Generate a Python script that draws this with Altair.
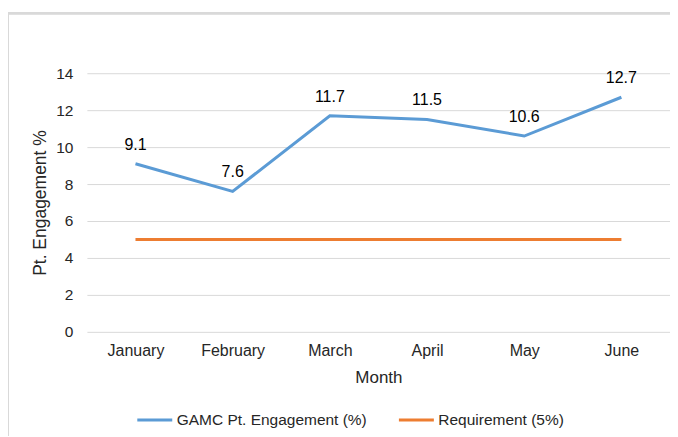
import altair as alt
import pandas as pd

months = ["January", "February", "March", "April", "May", "June"]
engagement = [9.1, 7.6, 11.7, 11.5, 10.6, 12.7]
requirement = [5, 5, 5, 5, 5, 5]
y_ticks = [0, 2, 4, 6, 8, 10, 12, 14]
series_names = ["GAMC Pt. Engagement (%)", "Requirement (5%)"]
colors = ["#5B9BD5", "#ED7D31"]

rows = []
for m, v in zip(months, engagement):
    rows.append({"Month": m, "Value": v, "Series": series_names[0]})
for m, v in zip(months, requirement):
    rows.append({"Month": m, "Value": v, "Series": series_names[1]})
df = pd.DataFrame(rows)
df_lab = pd.DataFrame({"Month": months, "Value": engagement})

FONT = "Liberation Sans"

x = alt.X("Month:N", sort=months, title="Month",
          scale=alt.Scale(paddingInner=0, paddingOuter=0.5),
          axis=alt.Axis(labelAngle=0, ticks=False, domain=False, labelPadding=11,
                        titlePadding=11, labelFontSize=16, titleFontSize=17,
                        labelColor="#262626", titleColor="#262626",
                        labelFont=FONT, titleFont=FONT, titleFontWeight="normal"))
y = alt.Y("Value:Q", title="Pt. Engagement %",
          scale=alt.Scale(domain=[0, 14], nice=False),
          axis=alt.Axis(values=y_ticks, ticks=False, domain=False,
                        labelOverlap=False, labelPadding=14, titlePadding=6,
                        labelFontSize=15.5, titleFontSize=17.5,
                        labelColor="#262626", titleColor="#262626", gridColor="#D9D9D9",
                        labelFont=FONT, titleFont=FONT, titleFontWeight="normal"))

lines = alt.Chart(df).mark_line(strokeWidth=3).encode(
    x=x, y=y,
    color=alt.Color("Series:N", sort=series_names,
                    scale=alt.Scale(domain=series_names, range=colors),
                    legend=alt.Legend(title=None, orient="none", direction="horizontal",
                                      legendX=49, legendY=328,
                                      symbolType="stroke", symbolSize=1225,
                                      symbolStrokeWidth=3, labelFontSize=15.5,
                                      labelFont=FONT, labelColor="#262626",
                                      labelLimit=400,
                                      columnPadding=25, labelOffset=3)),
)

labels = alt.Chart(df_lab).mark_text(dy=-19, fontSize=16, font=FONT, color="#000000").encode(
    x=x, y=y, text=alt.Text("Value:Q", format=".1f")
)

frame = alt.Chart(df_lab).mark_rect(fill=None, stroke="#D9D9D9", strokeWidth=2).encode(
    x=alt.value(-79), x2=alt.value(700), y=alt.value(-60), y2=alt.value(500)
)

chart = alt.layer(frame, lines, labels).properties(
    width=584, height=259, autosize=alt.AutoSizeParams(type="none"),
    padding={"left": 79, "top": 65, "right": 0, "bottom": 104}
).configure(background="white").configure_view(stroke=None)

chart.save("out.html", embed_options={"renderer": "svg", "actions": False})
